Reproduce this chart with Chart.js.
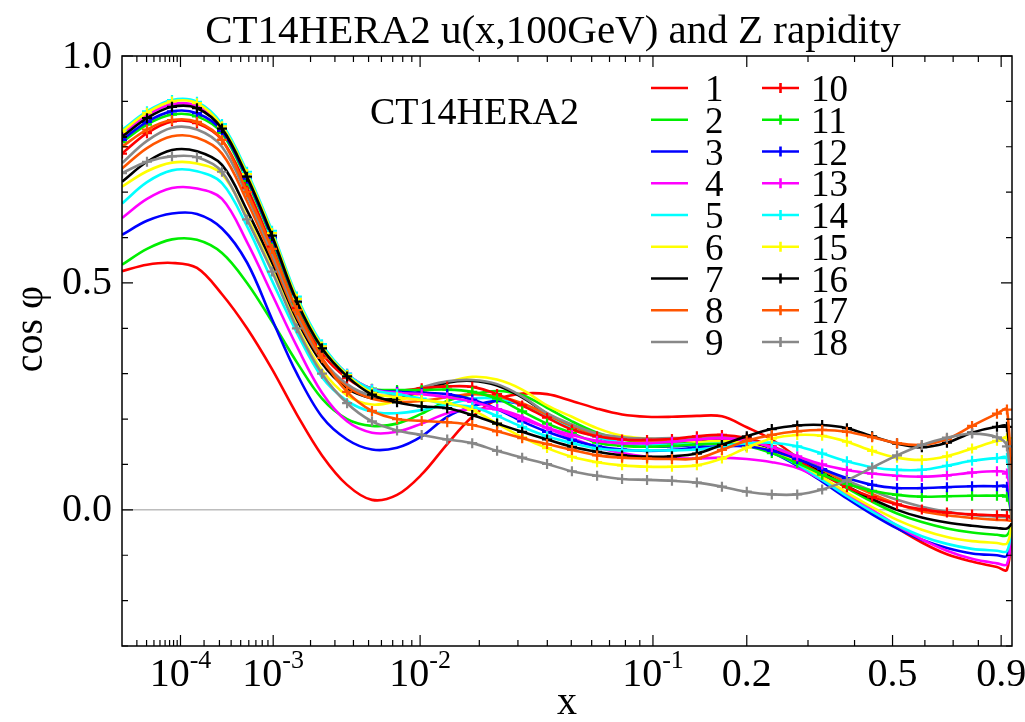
<!DOCTYPE html>
<html>
<head>
<meta charset="utf-8">
<script src="https://cdn.jsdelivr.net/npm/chart.js@4.4.1/dist/chart.umd.min.js"></script>
<style>
  html, body { margin: 0; padding: 0; background: #fff; }
</style>
</head>
<body>
<canvas id="corrChart" width="1025" height="722"></canvas>
<script>
// ============================================================================
// DATA: cos(phi) between u(x,100GeV) and Z rapidity bins, CT14HERA2
// ============================================================================
const xVals = [
  1.0e-5, 3.05e-5, 7.59e-5, 1.64e-4, 3.2e-4, 5.77e-4, 9.77e-4, 1.57e-3, 2.43e-3, 3.63e-3,
  5.25e-3, 7.42e-3, 1.02e-2, 1.39e-2, 1.85e-2, 2.42e-2, 3.13e-2, 3.99e-2, 5.03e-2, 6.29e-2,
  7.78e-2, 9.54e-2, 0.116, 0.140, 0.168, 0.200, 0.237, 0.280, 0.328, 0.382,
  0.444, 0.513, 0.590, 0.677, 0.774, 0.881, 0.927, 0.951,
];

const cos1 = [0.526, 0.540, 0.544, 0.533, 0.475, 0.400, 0.310, 0.210, 0.120, 0.055,
  0.022, 0.033, 0.078, 0.145, 0.205, 0.243, 0.256, 0.255, 0.240, 0.223,
  0.210, 0.205, 0.205, 0.207, 0.206, 0.182, 0.155, 0.115, 0.072, 0.032,
  -0.005, -0.040, -0.072, -0.098, -0.114, -0.126, -0.132, -0.035];
const cos2 = [0.540, 0.575, 0.596, 0.595, 0.566, 0.500, 0.415, 0.325, 0.245, 0.200,
  0.185, 0.190, 0.212, 0.240, 0.255, 0.262, 0.253, 0.225, 0.195, 0.170,
  0.155, 0.148, 0.148, 0.150, 0.155, 0.150, 0.135, 0.110, 0.080, 0.048,
  0.018, -0.008, -0.027, -0.041, -0.050, -0.055, -0.056, -0.030];
const cos3 = [0.606, 0.637, 0.653, 0.652, 0.620, 0.545, 0.420, 0.300, 0.205, 0.155,
  0.133, 0.137, 0.162, 0.205, 0.228, 0.240, 0.232, 0.210, 0.183, 0.160,
  0.147, 0.140, 0.140, 0.143, 0.148, 0.143, 0.126, 0.097, 0.062, 0.025,
  -0.010, -0.041, -0.066, -0.084, -0.096, -0.100, -0.101, -0.030];
const cos4 = [0.643, 0.685, 0.709, 0.708, 0.685, 0.590, 0.475, 0.360, 0.258, 0.195,
  0.170, 0.172, 0.190, 0.213, 0.222, 0.222, 0.205, 0.180, 0.158, 0.138,
  0.125, 0.117, 0.114, 0.113, 0.115, 0.112, 0.105, 0.092, 0.066, 0.035,
  0.000, -0.035, -0.065, -0.090, -0.108, -0.118, -0.120, -0.035];
const cos5 = [0.675, 0.722, 0.748, 0.746, 0.720, 0.625, 0.505, 0.390, 0.292, 0.240,
  0.216, 0.213, 0.220, 0.232, 0.245, 0.245, 0.232, 0.205, 0.180, 0.160,
  0.148, 0.143, 0.143, 0.145, 0.150, 0.145, 0.128, 0.100, 0.066, 0.030,
  -0.004, -0.034, -0.058, -0.075, -0.086, -0.090, -0.091, -0.030];
const cos6 = [0.712, 0.746, 0.765, 0.763, 0.740, 0.645, 0.530, 0.405, 0.308, 0.252,
  0.232, 0.240, 0.258, 0.280, 0.293, 0.287, 0.265, 0.230, 0.205, 0.180,
  0.163, 0.157, 0.155, 0.150, 0.152, 0.146, 0.130, 0.104, 0.072, 0.038,
  0.006, -0.022, -0.044, -0.060, -0.069, -0.073, -0.074, -0.030];
const cos7 = [0.723, 0.767, 0.793, 0.790, 0.760, 0.660, 0.545, 0.419, 0.323, 0.268,
  0.246, 0.245, 0.262, 0.280, 0.284, 0.274, 0.248, 0.212, 0.186, 0.166,
  0.158, 0.155, 0.155, 0.155, 0.158, 0.152, 0.136, 0.112, 0.083, 0.052,
  0.024, 0.000, -0.017, -0.028, -0.035, -0.040, -0.041, -0.030];
const cos8 = [0.752, 0.797, 0.823, 0.820, 0.785, 0.680, 0.555, 0.425, 0.330, 0.272,
  0.245, 0.238, 0.240, 0.248, 0.255, 0.250, 0.235, 0.210, 0.185, 0.165,
  0.155, 0.152, 0.153, 0.155, 0.158, 0.153, 0.138, 0.115, 0.088, 0.060,
  0.035, 0.013, -0.003, -0.012, -0.018, -0.022, -0.023, -0.025];
const cos9 = [0.764, 0.813, 0.842, 0.838, 0.800, 0.693, 0.565, 0.432, 0.333, 0.277,
  0.252, 0.255, 0.270, 0.283, 0.286, 0.277, 0.250, 0.213, 0.188, 0.168,
  0.160, 0.157, 0.158, 0.158, 0.160, 0.155, 0.140, 0.118, 0.092, 0.065,
  0.042, 0.022, 0.007, -0.004, -0.011, -0.015, -0.016, -0.020];
const cos10 = [0.785, 0.830, 0.856, 0.852, 0.815, 0.710, 0.580, 0.445, 0.345, 0.290,
  0.262, 0.262, 0.268, 0.272, 0.271, 0.255, 0.230, 0.203, 0.177, 0.162,
  0.155, 0.154, 0.156, 0.162, 0.165, 0.158, 0.140, 0.110, 0.078, 0.050,
  0.028, 0.012, 0.001, -0.006, -0.010, -0.012, -0.013, -0.020];
const cos11 = [0.810, 0.849, 0.871, 0.867, 0.830, 0.725, 0.595, 0.455, 0.355, 0.297,
  0.267, 0.264, 0.264, 0.265, 0.260, 0.245, 0.217, 0.190, 0.169, 0.148,
  0.141, 0.139, 0.141, 0.144, 0.145, 0.140, 0.125, 0.103, 0.078, 0.057,
  0.042, 0.033, 0.029, 0.030, 0.031, 0.031, 0.029, -0.020];
const cos12 = [0.815, 0.855, 0.878, 0.874, 0.835, 0.730, 0.600, 0.458, 0.357, 0.298,
  0.266, 0.260, 0.258, 0.255, 0.243, 0.222, 0.195, 0.172, 0.154, 0.140,
  0.133, 0.130, 0.132, 0.137, 0.140, 0.140, 0.130, 0.112, 0.090, 0.070,
  0.055, 0.048, 0.048, 0.050, 0.052, 0.052, 0.051, -0.020];
const cos13 = [0.828, 0.870, 0.894, 0.890, 0.845, 0.740, 0.610, 0.465, 0.362, 0.300,
  0.266, 0.258, 0.255, 0.248, 0.238, 0.222, 0.200, 0.181, 0.165, 0.152,
  0.147, 0.147, 0.150, 0.155, 0.158, 0.152, 0.138, 0.118, 0.100, 0.088,
  0.080, 0.075, 0.073, 0.076, 0.082, 0.085, 0.080, -0.020];
const cos14 = [0.837, 0.878, 0.903, 0.899, 0.850, 0.745, 0.615, 0.470, 0.365, 0.300,
  0.265, 0.255, 0.245, 0.232, 0.227, 0.207, 0.183, 0.162, 0.147, 0.135,
  0.131, 0.131, 0.131, 0.133, 0.140, 0.147, 0.148, 0.140, 0.124, 0.107,
  0.094, 0.088, 0.088, 0.097, 0.108, 0.114, 0.114, -0.020];
const cos15 = [0.833, 0.875, 0.900, 0.896, 0.845, 0.740, 0.610, 0.465, 0.360, 0.297,
  0.258, 0.248, 0.242, 0.235, 0.220, 0.190, 0.160, 0.136, 0.117, 0.105,
  0.098, 0.095, 0.095, 0.098, 0.113, 0.137, 0.157, 0.165, 0.163, 0.150,
  0.130, 0.115, 0.110, 0.118, 0.135, 0.152, 0.158, -0.020];
const cos16 = [0.822, 0.863, 0.888, 0.885, 0.840, 0.734, 0.604, 0.459, 0.356, 0.294,
  0.254, 0.237, 0.228, 0.224, 0.209, 0.190, 0.172, 0.155, 0.139, 0.128,
  0.120, 0.117, 0.118, 0.124, 0.143, 0.162, 0.178, 0.186, 0.187, 0.180,
  0.162, 0.146, 0.138, 0.148, 0.170, 0.183, 0.183, -0.020];
const cos17 = [0.800, 0.838, 0.859, 0.855, 0.815, 0.700, 0.575, 0.440, 0.335, 0.260,
  0.218, 0.200, 0.196, 0.193, 0.187, 0.173, 0.158, 0.145, 0.132, 0.120,
  0.115, 0.113, 0.112, 0.113, 0.132, 0.152, 0.165, 0.173, 0.176, 0.172,
  0.160, 0.147, 0.143, 0.156, 0.185, 0.212, 0.221, -0.020];
const cos18 = [0.742, 0.767, 0.779, 0.777, 0.745, 0.640, 0.525, 0.400, 0.300, 0.235,
  0.195, 0.175, 0.165, 0.155, 0.147, 0.130, 0.115, 0.101, 0.085, 0.075,
  0.068, 0.066, 0.064, 0.060, 0.051, 0.040, 0.034, 0.034, 0.045, 0.065,
  0.093, 0.120, 0.143, 0.159, 0.168, 0.160, 0.140, -0.020];

const seriesLabels = ["1", "2", "3", "4", "5", "6", "7", "8", "9",
  "10", "11", "12", "13", "14", "15", "16", "17", "18"];
const warna = ["#ff0000", "#00ee00", "#0000ff", "#ff00ff", "#00ffff",
  "#ffff00", "#000000", "#ff5500", "#888888"];

// axis tick marks
const xMajorTicks = [1e-4, 1e-3, 1e-2, 0.1, 0.2, 0.5, 0.9];
const xMajorLabels = [["10", "-4"], ["10", "-3"], ["10", "-2"], ["10", "-1"],
  ["0.2", ""], ["0.5", ""], ["0.9", ""]];
const yLabelValues = [0.0, 0.5, 1.0];

// ============================================================================
// HELPERS
// ============================================================================
const FONT = '"Liberation Serif", "Times New Roman", serif';
const toU = (v) => Math.pow(v, 0.2); // x axis is drawn in x^0.2

const xMinorTicks = [];
[1e-5, 1e-4, 1e-3, 1e-2].forEach((dec) => {
  for (let m = 2; m <= 9; m++) xMinorTicks.push(m * dec);
});
[0.3, 0.4, 0.6, 0.7, 0.8].forEach((v) => xMinorTicks.push(v));

const yTickValues = [];
for (let k = -3; k <= 10; k++) yTickValues.push(k / 10);

// ============================================================================
// PLUGIN: frame, inward ticks, labels, legend
// ============================================================================
const framePlugin = {
  id: "frameAxes",
  beforeDatasetsDraw(chart) {
    const { ctx, chartArea: a, scales } = chart;
    const y0 = scales.y.getPixelForValue(0);
    ctx.save();
    ctx.strokeStyle = "#9a9a9a";
    ctx.lineWidth = 1;
    ctx.beginPath();
    ctx.moveTo(a.left, y0);
    ctx.lineTo(a.right, y0);
    ctx.stroke();
    ctx.restore();
  },
  afterDraw(chart) {
    const { ctx, chartArea: a, scales } = chart;
    const sx = scales.x;
    const sy = scales.y;
    ctx.save();

    // frame
    ctx.strokeStyle = "#000";
    ctx.lineWidth = 1.5;
    ctx.strokeRect(a.left, a.top, a.right - a.left, a.bottom - a.top);

    // ticks
    ctx.lineWidth = 1.2;
    ctx.beginPath();
    const xTick = (v, len) => {
      const px = sx.getPixelForValue(toU(v));
      ctx.moveTo(px, a.bottom);
      ctx.lineTo(px, a.bottom - len);
      ctx.moveTo(px, a.top);
      ctx.lineTo(px, a.top + len);
    };
    xMajorTicks.forEach((v) => xTick(v, 11));
    xMinorTicks.forEach((v) => xTick(v, 6));
    yTickValues.forEach((v) => {
      const py = sy.getPixelForValue(v);
      const len = Math.abs(v * 2 - Math.round(v * 2)) < 1e-6 ? 11 : 6;
      ctx.moveTo(a.left, py);
      ctx.lineTo(a.left + len, py);
      ctx.moveTo(a.right, py);
      ctx.lineTo(a.right - len, py);
    });
    ctx.stroke();

    ctx.fillStyle = "#000";

    // y tick labels
    ctx.font = `40px ${FONT}`;
    ctx.textAlign = "right";
    ctx.textBaseline = "middle";
    yLabelValues.forEach((v) => {
      ctx.fillText(v.toFixed(1), a.left - 10, sy.getPixelForValue(v) + 1);
    });

    // x tick labels (with exponent)
    ctx.textBaseline = "alphabetic";
    ctx.textAlign = "left";
    xMajorTicks.forEach((v, i) => {
      const [base, exp] = xMajorLabels[i];
      ctx.font = `40px ${FONT}`;
      const wb = ctx.measureText(base).width;
      ctx.font = `26px ${FONT}`;
      const we = exp ? ctx.measureText(exp).width : 0;
      const px = sx.getPixelForValue(toU(v));
      const x0 = px - (wb + we) / 2;
      ctx.font = `40px ${FONT}`;
      ctx.fillText(base, x0, a.bottom + 40);
      if (exp) {
        ctx.font = `26px ${FONT}`;
        ctx.fillText(exp, x0 + wb, a.bottom + 22);
      }
    });

    // axis titles
    ctx.font = `40px ${FONT}`;
    ctx.textAlign = "center";
    ctx.fillText("x", (a.left + a.right) / 2, 714);
    ctx.save();
    ctx.translate(42, (a.top + a.bottom) / 2 - 22);
    ctx.rotate(-Math.PI / 2);
    ctx.fillText("cos \u03c6", 0, 0);
    ctx.restore();

    // title
    ctx.font = `41px ${FONT}`;
    ctx.fillText("CT14HERA2 u(x,100GeV) and Z rapidity", 553, 43);

    // inner tag
    ctx.font = `38px ${FONT}`;
    ctx.textAlign = "left";
    ctx.fillText("CT14HERA2", 370, 124);

    // legend, two columns
    const colX = [651, 762];
    const textX = [705, 811];
    ctx.font = `37px ${FONT}`;
    chart.data.datasets.forEach((ds, i) => {
      const col = i < 9 ? 0 : 1;
      const row = i % 9;
      const ry = 88 + row * 31.75;
      ctx.strokeStyle = ds.borderColor;
      ctx.lineWidth = 2.6;
      ctx.beginPath();
      ctx.moveTo(colX[col], ry);
      ctx.lineTo(colX[col] + 37, ry);
      if (col === 1) {
        const cx = colX[col] + 18.5;
        ctx.moveTo(cx, ry - 5);
        ctx.lineTo(cx, ry + 5);
      }
      ctx.stroke();
      ctx.fillStyle = "#000";
      ctx.fillText(ds.label, textX[col], ry + 13);
    });

    ctx.restore();
  },
};

// ============================================================================
// CHART
// ============================================================================
document.addEventListener("DOMContentLoaded", () => {
  const ctx = document.getElementById("corrChart").getContext("2d");
  const allSeries = [cos1, cos2, cos3, cos4, cos5, cos6, cos7, cos8, cos9,
    cos10, cos11, cos12, cos13, cos14, cos15, cos16, cos17, cos18];

  const datasets = allSeries.map((vals, i) => {
    const color = warna[i % warna.length];
    const withMarks = i >= 9;
    const last = vals.length - 1;
    return {
      label: seriesLabels[i],
      data: vals.map((y, j) => ({ x: toU(xVals[j]), y })),
      borderColor: color,
      backgroundColor: color,
      borderWidth: 2.6,
      pointStyle: "cross",
      pointRadius: withMarks ? (c) => (c.dataIndex === last ? 0 : 5) : 0,
      pointBorderWidth: 2.2,
      pointBorderColor: color,
      tension: 0.35,
      fill: false,
      order: 18 - i,
    };
  });

  new Chart(ctx, {
    type: "line",
    data: { datasets },
    options: {
      responsive: false,
      animation: false,
      devicePixelRatio: 1,
      events: [],
      layout: { padding: { top: 56, right: 13, left: 0, bottom: 0 } },
      plugins: {
        legend: { display: false },
        tooltip: { enabled: false },
        title: { display: false },
      },
      scales: {
        x: {
          type: "linear",
          min: toU(1e-5),
          max: toU(0.951),
          ticks: { display: false },
          grid: { display: false },
          border: { display: false },
          afterFit: (s) => { s.height = 76; },
        },
        y: {
          min: -0.3,
          max: 1.0,
          ticks: { display: false },
          grid: { display: false },
          border: { display: false },
          afterFit: (s) => { s.width = 122; },
        },
      },
    },
    plugins: [framePlugin],
  });
});
</script>
</body>
</html>
